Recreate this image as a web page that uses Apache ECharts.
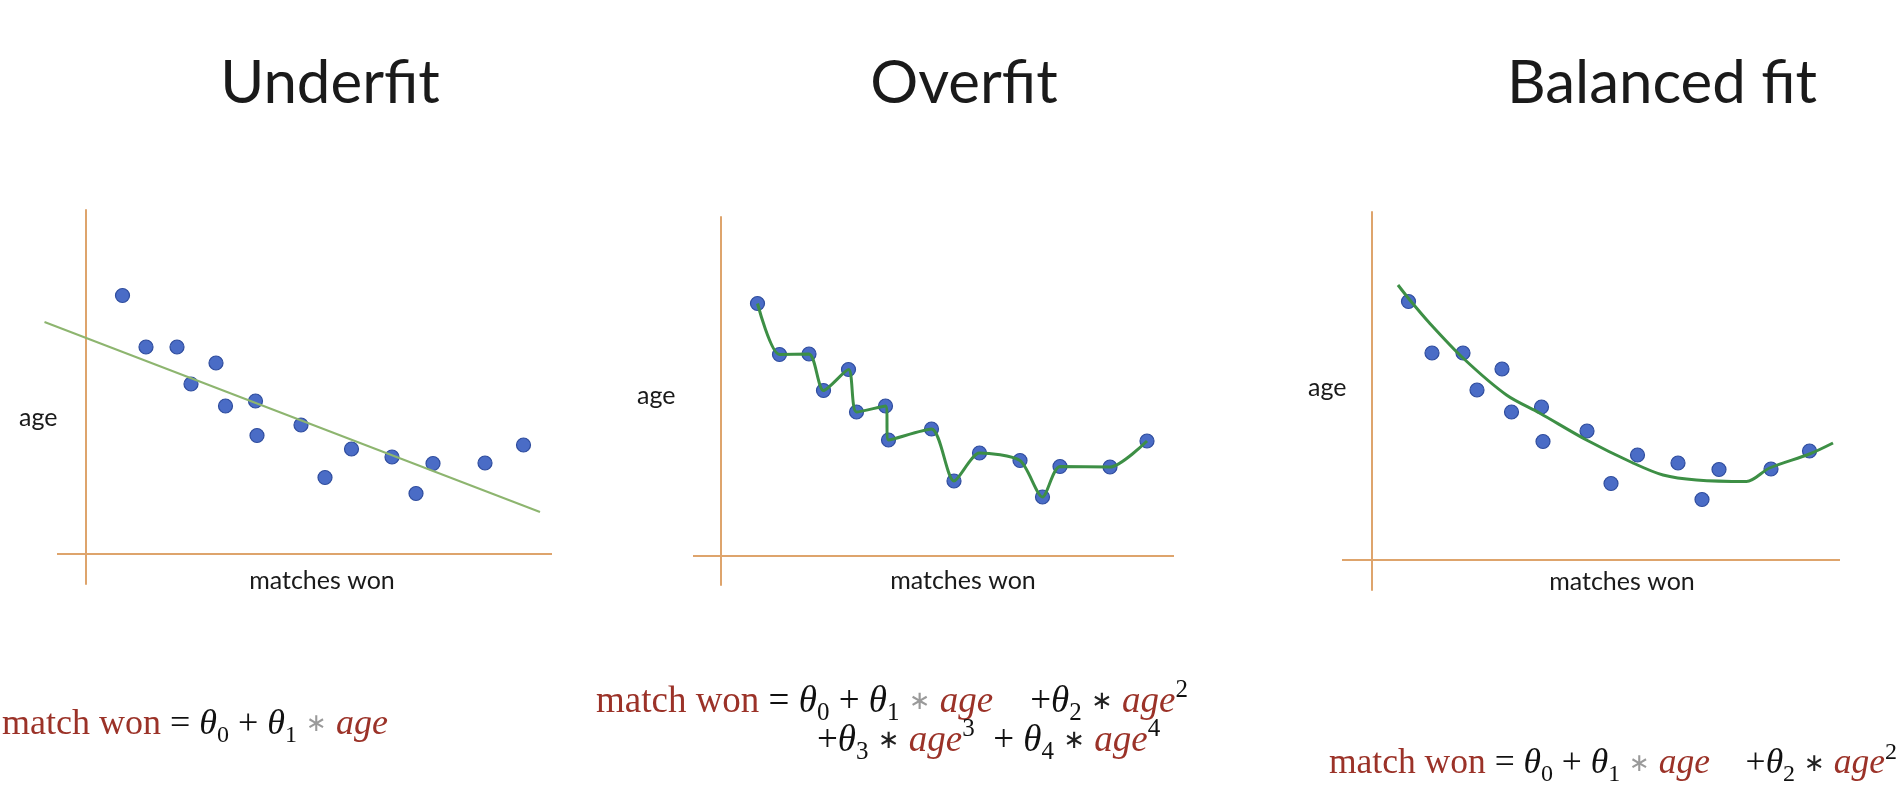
<!DOCTYPE html>
<html>
<head>
<meta charset="utf-8">
<script src="https://cdn.jsdelivr.net/npm/echarts@6/dist/echarts.min.js"></script>
<style>
  html, body { margin: 0; padding: 0; background: #ffffff; }
  #chart { width: 1902px; height: 796px; }
</style>
</head>
<body>
<div id="chart"></div>
<script>
// ---- data (arbitrary units; axes cross at 0,0) ----
const panelTitles = ['Underfit', 'Overfit', 'Balanced fit'];
const xAxisName = 'matches won';
const yAxisName = 'age';

// observations (underfit & balanced panels)
const matchesWon = [7.3, 12.0, 18.2, 21.0, 26.0, 27.9, 33.9, 34.2, 43.0, 47.8, 53.1, 61.2, 66.0, 69.4, 79.8, 87.5];
const age        = [51.7, 41.4, 41.4, 34.0, 38.2, 29.6, 30.6, 23.7, 25.8, 15.3, 21.0, 19.4, 12.1, 18.1, 18.2, 21.8];

// observations as drawn in the overfit panel
const overfitMatches = [7.3, 11.7, 17.6, 20.5, 25.5, 27.1, 32.9, 33.5, 42.1, 46.6, 51.7, 59.8, 64.3, 67.8, 77.8, 85.2];
const overfitAge     = [50.5, 40.3, 40.4, 33.1, 37.3, 28.8, 30.0, 23.2, 25.4, 15.0, 20.6, 19.1, 11.8, 17.9, 17.8, 23.0];

// underfit: straight line
const linearFitX = [-8.3, 90.8];
const linearFitY = [46.4, 8.4];

// balanced fit: quadratic-looking curve
const balancedFitX = [5.2, 7.4, 11.5, 18.2, 26.9, 33.5, 42.9, 52.2, 58.2, 64.9, 74.9, 79.5, 87.5, 92.2];
const balancedFitY = [55.0, 52.2, 47.4, 40.4, 33.0, 29.4, 24.0, 19.4, 17.0, 16.0, 15.7, 18.4, 21.2, 23.4];

// where each panel's horizontal axis line starts / ends (x units)
const xAxisSpan = [[-5.8, 93.2], [-5.6, 90.6], [-6, 93.6]];

const zip = (xs, ys) => xs.map((v, i) => [v, ys[i]]);

// ---- styling ----
const AXIS_COLOR = '#dea46c';
const DOT_COLOR = '#4a6cc6';
const DOT_BORDER = '#2f4d9e';
const FIT_GREEN = '#3d8f45';
const LIN_GREEN = '#8db56f';
const RED = '#9b3228';

// panel 1's grid is widened to the left so the fitted line can overhang the axis
const grids = [
  { left: 44,   top: 210, width: 508, height: 374 },
  { left: 693,  top: 217, width: 481, height: 368 },
  { left: 1342, top: 212, width: 498, height: 378 }
];
const xRanges = [[-8.4, 93.2], [-5.6, 90.6], [-6, 93.6]];
const yRanges = [[-6, 68.8], [-5.8, 67.8], [-6, 69.6]];

function xAxisCfg(i) {
  return {
    type: 'value', gridIndex: i, min: xRanges[i][0], max: xRanges[i][1],
    axisLine: { show: false },
    axisTick: { show: false }, axisLabel: { show: false }, splitLine: { show: false }
  };
}
function yAxisCfg(i) {
  return {
    type: 'value', gridIndex: i, min: yRanges[i][0], max: yRanges[i][1],
    axisLine: { show: true, onZero: true, lineStyle: { color: AXIS_COLOR, width: 2 } },
    axisTick: { show: false }, axisLabel: { show: false }, splitLine: { show: false }
  };
}

function scatter(i, data, size) {
  return {
    type: 'scatter', xAxisIndex: i, yAxisIndex: i, data: data,
    symbolSize: size, z: 2,
    itemStyle: { color: DOT_COLOR, borderColor: DOT_BORDER, borderWidth: 1.2, opacity: 1 },
    markLine: {
      silent: true, symbol: 'none', animation: false,
      label: { show: false },
      lineStyle: { color: AXIS_COLOR, width: 2, type: 'solid' },
      data: [[{ coord: [xAxisSpan[i][0], 0] }, { coord: [xAxisSpan[i][1], 0] }]]
    }
  };
}

// ---- formula text (rich) ----
function makeRich(fs) {
  const lh = Math.round(fs * 1.3);
  const sub = Math.round(fs * 0.68);
  const ast = Math.round(fs * 0.7);
  return {
    r: { fill: RED, fontFamily: 'Liberation Serif', fontSize: fs, lineHeight: lh },
    k: { fill: '#111', fontFamily: 'Liberation Serif', fontSize: fs, lineHeight: lh },
    t: { fill: '#111', fontFamily: 'Liberation Serif', fontStyle: 'italic', fontSize: fs, lineHeight: lh },
    a: { fill: RED, fontFamily: 'Liberation Serif', fontStyle: 'italic', fontSize: fs, lineHeight: lh },
    g: { fill: '#9a9a9a', fontFamily: 'DejaVu Sans', fontSize: ast, lineHeight: lh },
    m: { fill: '#222', fontFamily: 'DejaVu Sans', fontSize: ast, lineHeight: lh },
    s: { fill: '#111', fontFamily: 'Liberation Serif', fontSize: sub, lineHeight: sub, verticalAlign: 'bottom' },
    p: { fill: '#111', fontFamily: 'Liberation Serif', fontSize: sub, lineHeight: sub, verticalAlign: 'top' }
  };
}
const eqLinear = '{r|match won} {k|=} {t|θ}{s|0} {k|+} {t|θ}{s|1} {g|∗} {a|age}';
const eqQuadTail = '    {k|+}{t|θ}{s|2} {m|∗} {a|age}{p|2}';
const eqQuartLine2 = '{k|+}{t|θ}{s|3} {m|∗} {a|age}{p|3}  {k|+} {t|θ}{s|4} {m|∗} {a|age}{p|4}';

function formula(x, y, text, fs) {
  return {
    type: 'text', x: x, y: y, z: 10,
    style: {
      text: text, rich: makeRich(fs), align: 'left', verticalAlign: 'top',
      fontFamily: 'Liberation Serif', fontSize: fs, fill: '#111'
    }
  };
}
function label(x, y, text, size, align, family) {
  return {
    type: 'text', x: x, y: y, z: 10,
    style: {
      text: text, fontFamily: family, fontSize: size, fill: '#1a1a1a',
      align: align, verticalAlign: 'middle'
    }
  };
}

const option = {
  backgroundColor: '#ffffff',
  animation: false,
  grid: grids,
  xAxis: [0, 1, 2].map(xAxisCfg),
  yAxis: [0, 1, 2].map(yAxisCfg),
  series: [
    scatter(0, zip(matchesWon, age), 14),
    {
      type: 'line', xAxisIndex: 0, yAxisIndex: 0, data: zip(linearFitX, linearFitY),
      showSymbol: false, clip: false, z: 3,
      lineStyle: { color: LIN_GREEN, width: 2 }
    },
    scatter(1, zip(overfitMatches, overfitAge), 14),
    {
      type: 'line', xAxisIndex: 1, yAxisIndex: 1, data: zip(overfitMatches, overfitAge),
      showSymbol: false, clip: false, smooth: 0.25, z: 3,
      lineStyle: { color: FIT_GREEN, width: 3 }
    },
    scatter(2, zip(matchesWon, age), 14),
    {
      type: 'line', xAxisIndex: 2, yAxisIndex: 2, data: zip(balancedFitX, balancedFitY),
      showSymbol: false, clip: false, smooth: 0.3, z: 3,
      lineStyle: { color: FIT_GREEN, width: 3 }
    }
  ],
  graphic: [
    label(330, 84, panelTitles[0], 60, 'center', 'Lato'),
    label(964, 84, panelTitles[1], 60, 'center', 'Lato'),
    label(1662, 84, panelTitles[2], 60, 'center', 'Lato'),

    label(19, 418, yAxisName, 25, 'left', 'Lato'),
    label(637, 396, yAxisName, 25, 'left', 'Lato'),
    label(1308, 388, yAxisName, 25, 'left', 'Lato'),

    label(322, 581, xAxisName, 25, 'center', 'Lato'),
    label(963, 581, xAxisName, 25, 'center', 'Lato'),
    label(1622, 582, xAxisName, 25, 'center', 'Lato'),

    formula(2, 701, eqLinear, 36),
    formula(596, 678, eqLinear + eqQuadTail, 37),
    formula(817, 717, eqQuartLine2, 37),
    formula(1329, 741, eqLinear + eqQuadTail, 35.5)
  ]
};

const chart = echarts.init(document.getElementById('chart'), null, { renderer: 'canvas' });
chart.setOption(option);
</script>
</body>
</html>
